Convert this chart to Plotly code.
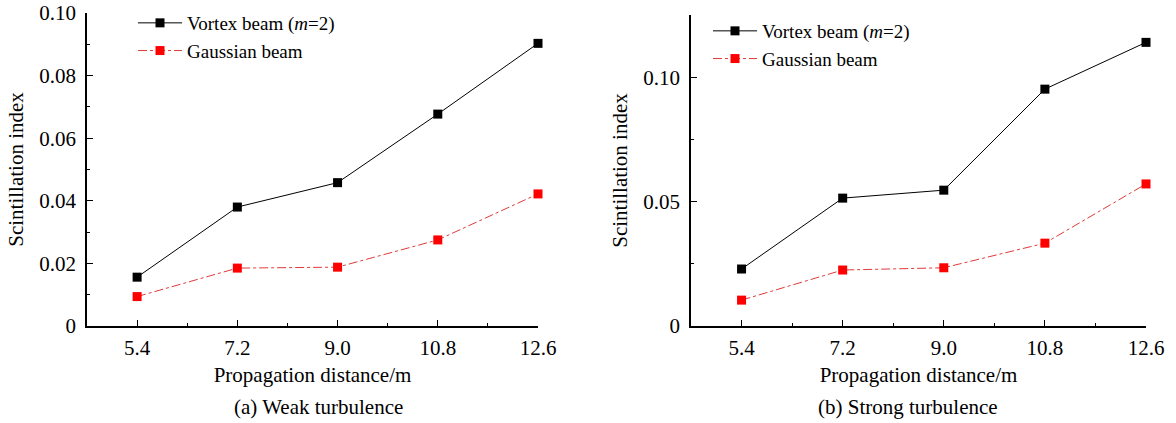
import plotly.graph_objects as go

distance = [5.4, 7.2, 9.0, 10.8, 12.6]
tick_labels = ["5.4", "7.2", "9.0", "10.8", "12.6"]
weak_vortex = [0.0156, 0.0380, 0.0458, 0.0677, 0.0903]
weak_gauss = [0.0094, 0.0185, 0.0188, 0.0275, 0.0422]
strong_vortex = [0.0229, 0.0514, 0.0546, 0.0952, 0.1140]
strong_gauss = [0.0104, 0.0225, 0.0234, 0.0333, 0.0571]

vortex_name = "Vortex beam (<i>m</i>=2)"
gauss_name = "Gaussian beam"
FONT = "Liberation Serif, Times New Roman, serif"
FS = 21

fig = go.Figure()

def add_pair(xa, ya, vortex, gauss, legend):
    fig.add_trace(go.Scatter(x=distance, y=vortex, name=vortex_name, mode="lines+markers",
                             line=dict(color="black", width=1),
                             marker=dict(symbol="square", size=9, color="black"),
                             xaxis=xa, yaxis=ya, legend=legend, cliponaxis=False))
    fig.add_trace(go.Scatter(x=distance, y=gauss, name=gauss_name, mode="lines+markers",
                             line=dict(color="#e03a3a", width=1, dash="dashdot"),
                             marker=dict(symbol="square", size=9, color="#ff0000"),
                             xaxis=xa, yaxis=ya, legend=legend, cliponaxis=False))

add_pair("x", "y", weak_vortex, weak_gauss, "legend")
add_pair("x2", "y2", strong_vortex, strong_gauss, "legend2")

W, H = 1176, 423
def px(x):
    return x / W
def py(y):
    return 1 - y / H

tfont = dict(family=FONT, size=FS, color="black")
xcommon = dict(range=[4.5, 12.6], tickvals=distance, ticktext=tick_labels,
               showline=True, linecolor="black", linewidth=1.5, ticks="inside",
               ticklen=6, tickcolor="black", showgrid=False, zeroline=False, automargin=False,
               minor=dict(ticks="inside", ticklen=3, tickcolor="black", dtick=0.9, tick0=5.4),
               tickfont=tfont, ticklabelstandoff=2,
               title=dict(text="Propagation distance/m", font=tfont, standoff=8))
ycommon = dict(showline=True, linecolor="black", linewidth=1.5, ticks="inside",
               ticklen=6, tickcolor="black", showgrid=False, zeroline=False, automargin=False,
               tickfont=tfont, ticklabelstandoff=5,
               title=dict(text="Scintillation index", font=tfont, standoff=10))

fig.update_layout(
    width=W, height=H, margin=dict(l=0, r=0, t=0, b=0),
    paper_bgcolor="white", plot_bgcolor="white",
    font=dict(family=FONT, size=FS, color="black"),
    xaxis=dict(domain=[px(87), px(538)], anchor="y", **xcommon),
    yaxis=dict(domain=[py(326), py(13)], anchor="x", range=[0, 0.1],
               tickvals=[0, 0.02, 0.04, 0.06, 0.08, 0.10],
               ticktext=["0", "0.02", "0.04", "0.06", "0.08", "0.10"],
               minor=dict(ticks="inside", ticklen=3, tickcolor="black", dtick=0.01, tick0=0),
               **ycommon),
    xaxis2=dict(domain=[px(691), px(1146)], anchor="y2", **xcommon),
    yaxis2=dict(domain=[py(326), py(15)], anchor="x2", range=[0, 0.125],
                tickvals=[0, 0.05, 0.10], ticktext=["0", "0.05", "0.10"],
                minor=dict(ticks="inside", ticklen=3, tickcolor="black", dtick=0.025, tick0=0),
                **ycommon),
    legend=dict(x=px(133), y=py(4), xanchor="left", yanchor="top", bgcolor="rgba(0,0,0,0)",
                font=dict(family=FONT, size=19, color="black"), tracegroupgap=0, itemwidth=44),
    legend2=dict(x=px(708), y=py(12), xanchor="left", yanchor="top", bgcolor="rgba(0,0,0,0)",
                 font=dict(family=FONT, size=19, color="black"), tracegroupgap=0, itemwidth=44),
    showlegend=True,
)

fig.add_annotation(text="(a) Weak turbulence", x=px(318), y=py(407), xref="paper", yref="paper",
                   showarrow=False, font=tfont, xanchor="center", yanchor="middle")
fig.add_annotation(text="(b) Strong turbulence", x=px(908), y=py(407), xref="paper", yref="paper",
                   showarrow=False, font=tfont, xanchor="center", yanchor="middle")

fig.write_html("out.html", config={"displayModeBar": False},
               post_script="document.body.style.margin='0';document.body.style.overflow='hidden';")
